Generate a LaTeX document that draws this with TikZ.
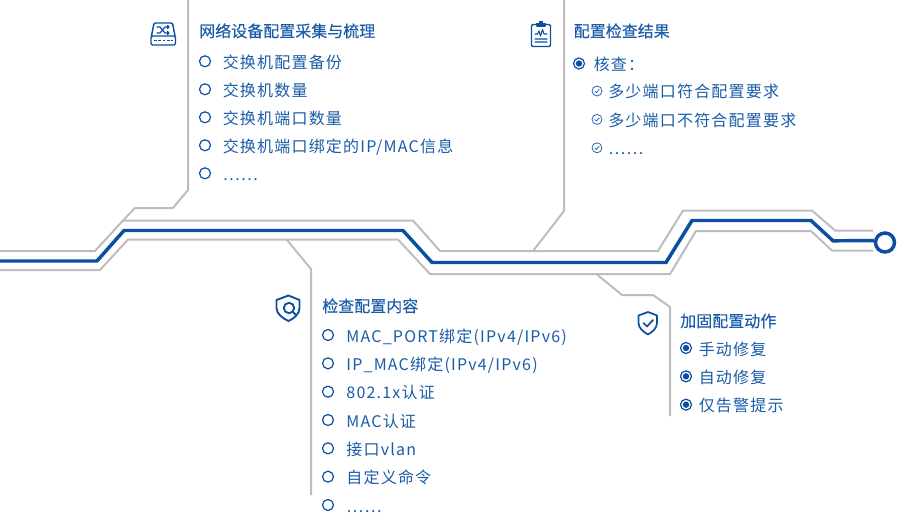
\documentclass[tikz,border=0pt]{standalone}
\usepackage{fontspec}
\setmainfont{Noto Sans CJK SC}
\newfontfamily\titlefont[FakeBold=0.25]{Noto Sans CJK SC}
\newfontfamily\itemfont[LetterSpace=7.5]{Noto Sans CJK SC}
\usetikzlibrary{positioning}
\definecolor{lineblue}{HTML}{0B4EA2}
\definecolor{textblue}{HTML}{1A5CA8}
\definecolor{linegray}{HTML}{BDBDBD}

\begin{document}
\begin{tikzpicture}[x=0.75pt, y=-0.75pt, font=\itemfont\fontsize{12pt}{14pt}\selectfont, text=textblue,
	title/.style={anchor=west, inner sep=0pt, text height=9pt, text depth=0pt, font=\titlefont\fontsize{12pt}{14pt}\selectfont},
	itemtext/.style={inner sep=0pt, text height=10.5pt, text depth=0pt},
	openbullet/.style={draw=lineblue, circle, line width=0.9pt, minimum size=8.25pt, inner sep=0pt, outer sep=0pt},
	radiobullet/.style={openbullet, path picture={\fill[lineblue] (path picture bounding box.center) circle (2.4pt);}},
	checkbullet/.style={draw=lineblue, circle, line width=0.5pt, minimum size=7.5pt, inner sep=0pt, outer sep=0pt,
		path picture={\draw[lineblue, line width=0.5pt] ([shift={(-1.7pt,0pt)}]path picture bounding box.center) -- ++(1.2pt,-1.2pt) -- ++(2.3pt,2.5pt);}},
	grayline/.style={draw=linegray, line width=1.5pt},
	blueline/.style={draw=lineblue, line width=2.6pt, line join=miter},
	icon/.style={draw=lineblue, line width=1.1pt, line join=round, line cap=round}]
	\useasboundingbox (0,0) rectangle (920,528);
	
	% traces
	\draw[grayline] (0,251) -- (95,251) -- (123,220.5) -- (413,220.5) -- (440,251) -- (658,251) -- (683,210.5) -- (812,210.5) -- (835,230.5) -- (873,230.5);
	\draw[grayline] (0,270) -- (100,270) -- (128,239.5) -- (398,239.5) -- (430,274) -- (670,274) -- (696,231) -- (811,231) -- (832,250.5) -- (873,250.5);
	\node[draw=lineblue, circle, line width=2.6pt, minimum size=19pt*0.75, inner sep=0pt, fill=white] (endpoint) at (885,242.5) {};
	\draw[blueline] (0,261) -- (97,261) -- (124,230.5) -- (403,230.5) -- (432,262.5) -- (666,262.5) -- (692,220.5) -- (811,220.5) -- (833,240.8) -- (endpoint.170);
	
	% branches
	\draw[grayline] (123,220.5) -- (135,208) -- (173,208) -- (188,190) -- (188,0);
	\draw[grayline] (533,251) -- (564,211) -- (564,0);
	\draw[grayline] (287,240) -- (311,269) -- (311,495);
	\draw[grayline] (597,274.5) -- (622,295) -- (653,295) -- (670,307) -- (670,416);
	
	% switch
	\node[title] (switch_title) at (199,31) {网络设备配置采集与梳理};
	\node[openbullet] (switch_a) at (205,61.3) {};
	\node[openbullet, below=12.75pt of switch_a] (switch_b) {};
	\node[openbullet, below=12.75pt of switch_b] (switch_c) {};
	\node[openbullet, below=12.75pt of switch_c] (switch_d) {};
	\node[openbullet, below=12.75pt of switch_d] (switch_e) {};
	\node[itemtext, right=9pt of switch_a] (switch_at) {交换机配置备份};
	\node[itemtext, right=9pt of switch_b] (switch_bt) {交换机数量};
	\node[itemtext, right=9pt of switch_c] (switch_ct) {交换机端口数量};
	\node[itemtext, right=9pt of switch_d] (switch_dt) {交换机端口绑定的IP/MAC信息};
	\node[itemtext, right=9pt of switch_e] (switch_et) {……};
	
	% result
	\node[title] (result_title) at (573.5,31) {配置检查结果};
	\node[radiobullet] (result_a) at (579,63.5) {};
	\node[itemtext, right=6.75pt of result_a] (result_at) {核查：};
	\node[checkbullet] (result_b) at (597,91) {};
	\node[checkbullet, below=13.8pt of result_b] (result_c) {};
	\node[checkbullet, below=13.8pt of result_c] (result_d) {};
	\node[itemtext, right=4.5pt of result_b] (result_bt) {多少端口符合配置要求};
	\node[itemtext, right=4.5pt of result_c] (result_ct) {多少端口不符合配置要求};
	\node[itemtext, right=4.5pt of result_d] (result_dt) {……};
	
	% content
	\node[title] (content_title) at (322,306) {检查配置内容};
	\node[openbullet] (content_a) at (328,335) {};
	\node[openbullet, below=13pt of content_a] (content_b) {};
	\node[openbullet, below=13pt of content_b] (content_c) {};
	\node[openbullet, below=13pt of content_c] (content_d) {};
	\node[openbullet, below=13pt of content_d] (content_e) {};
	\node[openbullet, below=13pt of content_e] (content_f) {};
	\node[openbullet, below=13pt of content_f] (content_g) {};
	\node[itemtext, right=9.5pt of content_a] (content_at) {MAC\_PORT绑定(IPv4/IPv6)};
	\node[itemtext, right=9.5pt of content_b] (content_bt) {IP\_MAC绑定(IPv4/IPv6)};
	\node[itemtext, right=9.5pt of content_c] (content_ct) {802.1x认证};
	\node[itemtext, right=9.5pt of content_d] (content_dt) {MAC认证};
	\node[itemtext, right=9.5pt of content_e] (content_et) {接口vlan};
	\node[itemtext, right=9.5pt of content_f] (content_ft) {自定义命令};
	\node[itemtext, right=9.5pt of content_g] (content_gt) {……};
	
	% action
	\node[title] (action_title) at (680,321) {加固配置动作};
	\node[radiobullet] (action_a) at (686,348) {};
	\node[radiobullet, below=13pt of action_a] (action_b) {};
	\node[radiobullet, below=13pt of action_b] (action_c) {};
	\node[itemtext, right=5.25pt of action_a] (action_at) {手动修复};
	\node[itemtext, right=5.25pt of action_b] (action_bt) {自动修复};
	\node[itemtext, right=5.25pt of action_c] (action_ct) {仅告警提示};
	
	% icons
	\draw[icon, rounded corners=1pt] (151.5,36) -- (154,23) -- (172.5,23) -- (175,36);
	\draw[icon, rounded corners=1pt] (151,36) rectangle (175.5,45);
	\draw[icon, line width=0.9pt] (157,27) -- (160,27) -- (165,33) -- (169,33) (157,33) -- (160,33) -- (165,27) -- (169,27) (167.5,25.5) -- (169,27) -- (167.5,28.5) (167.5,31.5) -- (169,33) -- (167.5,34.5);
	\draw[icon, line width=1.2pt, line cap=butt, dash pattern=on 2.2pt off 1pt] (154,40.5) -- (173,40.5);
	
	\draw[icon, rounded corners=1pt] (537,24.5) -- (531.5,24.5) -- (531.5,46.5) -- (550.5,46.5) -- (550.5,24.5) -- (545,24.5);
	\draw[icon, fill=lineblue] (537,26) rectangle (545,23.5) (539.5,23) -- (542.5,23) -- (542.5,21.5) -- (539.5,21.5) -- cycle;
	\draw[icon, line width=0.8pt] (535,34) -- (537.5,34) -- (539,31) -- (540.5,36) -- (542.5,29.5) -- (544,34) -- (547,34);
	\draw[icon, line width=0.9pt, draw=textblue!70] (535,39) -- (547,39) (535,42) -- (547,42);
	
	\draw[icon, line width=1.4pt] (288.5,295.5) -- (299.5,300) -- (299.5,308) .. controls (299.5,314) and (294,318.5) .. (288.5,321) .. controls (283,318.5) and (276.5,314) .. (276.5,308) -- (276.5,300) -- cycle;
	\draw[icon, line width=1.4pt] (289,308) circle (3.9pt);
	\draw[icon, line width=1.4pt] (293,312) -- (296,315);
	
	\draw[icon, line width=1.3pt] (648,312) -- (657,315.5) -- (657,323) .. controls (657,328) and (652.5,332) .. (648,334.5) .. controls (643.5,332) and (638.5,328) .. (638.5,323) -- (638.5,315.5) -- cycle;
	\draw[icon, line width=1.3pt] (643.5,323) -- (647,326.5) -- (653,320);
\end{tikzpicture}
\end{document}
